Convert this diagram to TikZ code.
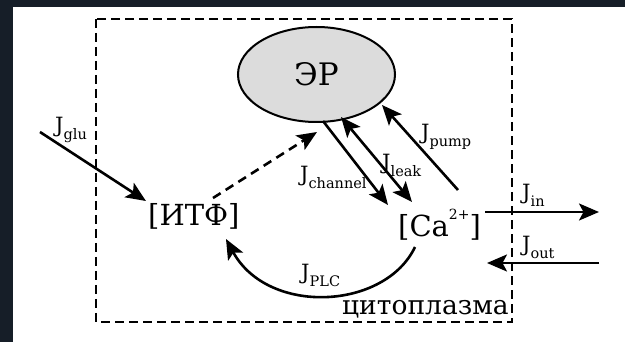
\documentclass[tikz,border=0pt]{standalone}
\usepackage{fontspec}
\setmainfont{DejaVu Serif}
\usetikzlibrary{arrows.meta,shapes.geometric}
\definecolor{frame}{HTML}{161E28}
\definecolor{erfill}{HTML}{DCDCDC}
\newcommand{\erfont}{\fontsize{31}{31}\selectfont}
\newcommand{\bigtxt}{\fontsize{29}{29}\selectfont}
\newcommand{\cytofont}{\fontsize{26.5}{26.5}\selectfont}
\newcommand{\jlab}[1]{{\fontsize{21}{21}\selectfont J\raisebox{-0.3em}{\fontsize{14.5}{14.5}\selectfont #1}}}
\tikzset{
  headtip/.tip={Stealth[length=20pt,width=17pt,inset=4.5pt]},
  flow/.style={line width=2.6pt,-headtip},
  bothflow/.style={line width=2.6pt,headtip-headtip},
  dflow/.style={flow,dash pattern=on 9pt off 6pt},
  cellbox/.style={draw,line width=1.2pt,dash pattern=on 9pt off 5pt},
  lab/.style={inner sep=0pt,anchor=base west},
  big/.style={inner sep=0pt,font=\bigtxt}
}
\begin{document}
\begin{tikzpicture}[x=1pt,y=-1pt]
\useasboundingbox (0,0) rectangle (625,342);
\fill[frame] (0,0) rectangle (625,342);
\fill[white] (13,7) rectangle (625,342);
% cell
\draw[cellbox] (96,19) rectangle (512,322);
% nodes
\node[draw,ellipse,line width=2pt,fill=erfill,minimum width=157pt,minimum height=95pt,inner sep=0pt,font=\erfont] (er) at (316.5,74.5) {ЭР};
\node[big,anchor=base west] (itf) at (148,226) {[ИТФ]};
\node[big,anchor=base west] (ca) at (398,237) {[Ca\raisebox{0.6em}{\fontsize{14}{14}\selectfont 2+}]};
\node[inner sep=0pt,font=\cytofont,anchor=base west] (cyto) at (342,315) {цитоплазма};
% free ends
\coordinate (glu0) at (40,132);
\coordinate (glu1) at (146,201);
\coordinate (ip0) at (213,198);
\coordinate (ip1) at (317,132);
\coordinate (ch0) at (323,121);
\coordinate (ch1) at (388,205);
\coordinate (lk0) at (341,117);
\coordinate (lk1) at (412,202);
\coordinate (pm0) at (458,190);
\coordinate (pm1) at (382,105);
\coordinate (in0) at (485,212);
\coordinate (in1) at (599,212);
\coordinate (out0) at (599,263);
\coordinate (out1) at (487,263);
\coordinate (plc0) at (415,247);
\coordinate (plc1) at (226,239);
% connectors
\draw[flow] (glu0) -- (glu1);
\draw[dflow] (ip0) -- (ip1);
\draw[flow] (ch0) -- (ch1);
\draw[bothflow] (lk0) -- (lk1);
\draw[flow] (pm0) -- (pm1);
\draw[flow] (in0) -- (in1);
\draw[flow] (out0) -- (out1);
\draw[flow] (plc0) .. controls (385,310) and (268,316) .. (plc1);
% labels
\node[lab] (lglu) at (55,133) {\jlab{glu}};
\node[lab] (lch) at (300,182) {\jlab{channel}};
\node[lab] (llk) at (382,170) {\jlab{leak}};
\node[lab] (lpm) at (421,140) {\jlab{pump}};
\node[lab] (lin) at (522,200) {\jlab{in}};
\node[lab] (lout) at (522,252) {\jlab{out}};
\node[lab] (lplc) at (301,280) {\jlab{PLC}};
\end{tikzpicture}
\end{document}
